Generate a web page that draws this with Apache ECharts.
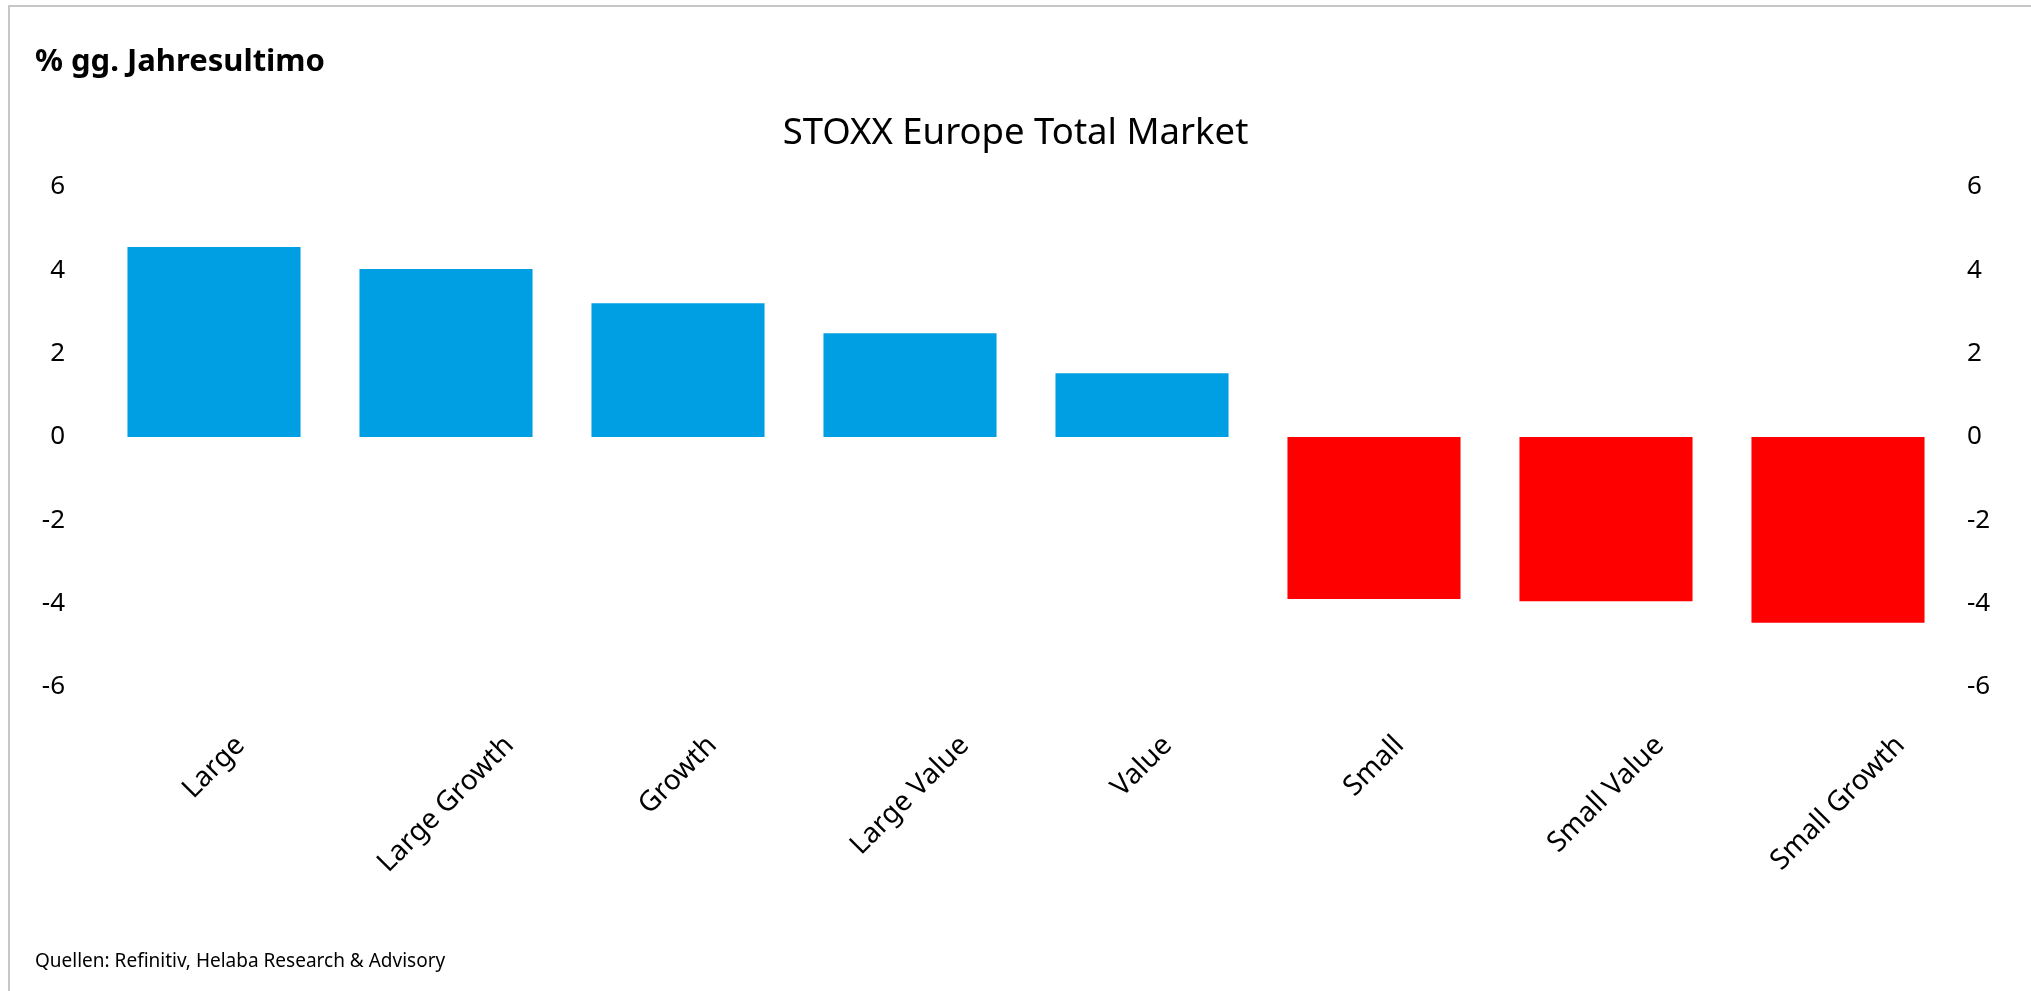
<!DOCTYPE html>
<html>
<head>
<meta charset="utf-8">
<script src="https://cdn.jsdelivr.net/npm/echarts@6/dist/echarts.min.js"></script>
<style>
    html, body { margin: 0; padding: 0; background: #fff; }
    #frame { position: absolute; left: 8px; top: 5px; right: 0; bottom: 0; border-top: 2px solid #c6c6c6; border-left: 2px solid #c6c6c6; }
    #chart { position: absolute; left: 0; top: 0; width: 2031px; height: 991px; }
</style>
</head>
<body>
<div id="frame"></div>
<div id="chart"></div>
<script>
    var categories = ['Large', 'Large Growth', 'Growth', 'Large Value', 'Value', 'Small', 'Small Value', 'Small Growth'];
    var values = [4.56, 4.03, 3.21, 2.49, 1.53, -3.89, -3.94, -4.46];
    var yTicks = [-6, -4, -2, 0, 2, 4, 6];

    var fontName = '"Noto Sans", sans-serif';
    var catFont = 28;

    // rotated labels: centre each label over its bar, tops on one line (like Excel)
    var cv = document.createElement('canvas').getContext('2d');
    cv.font = catFont + 'px ' + fontName;
    var rich = {};
    for (var i = 0; i < categories.length; i++) {
        var w = cv.measureText(categories[i]).width;
        rich['c' + i] = {
            fontSize: catFont,
            fontFamily: fontName,
            color: '#000',
            padding: [w / 2, w / 2, 0, 0]
        };
    }

    var myChart = echarts.init(document.getElementById('chart'));

    var option = {
        animation: false,
        title: [{
            text: '% gg. Jahresultimo',
            left: 35,
            top: 47,
            padding: 0,
            textStyle: { fontSize: 31, fontWeight: 'bold', fontFamily: fontName, color: '#000' }
        }, {
            text: 'STOXX Europe Total Market',
            left: 'center',
            top: 115,
            padding: 0,
            textStyle: { fontSize: 36.5, fontWeight: 'normal', fontFamily: fontName, color: '#000' }
        }, {
            text: 'Quellen: Refinitiv, Helaba Research & Advisory',
            left: 35,
            top: 952,
            padding: 0,
            textStyle: { fontSize: 19, fontWeight: 'normal', fontFamily: fontName, color: '#000' }
        }],
        grid: {
            left: 98,
            right: 77,
            top: 187,
            bottom: 304
        },
        xAxis: {
            type: 'category',
            data: categories,
            axisLine: { show: false },
            axisTick: { show: false },
            axisLabel: {
                rotate: 45,
                interval: 0,
                margin: 54,
                align: 'center',
                verticalAlign: 'middle',
                formatter: function (v, idx) {
                    return '{c' + idx + '|' + v + '}';
                },
                rich: rich
            }
        },
        yAxis: [{
            type: 'value',
            min: yTicks[0],
            max: yTicks[yTicks.length - 1],
            interval: 2,
            axisLine: { show: false },
            axisTick: { show: false },
            splitLine: { show: false },
            axisLabel: { margin: 33, fontSize: 26, fontFamily: fontName, color: '#000' }
        }, {
            type: 'value',
            position: 'right',
            min: yTicks[0],
            max: yTicks[yTicks.length - 1],
            interval: 2,
            axisLine: { show: false },
            axisTick: { show: false },
            splitLine: { show: false },
            axisLabel: { margin: 13, fontSize: 26, fontFamily: fontName, color: '#000' }
        }],
        series: [{
            type: 'bar',
            data: values,
            barCategoryGap: '25.4%',
            itemStyle: {
                color: function (p) {
                    return p.value >= 0 ? '#009fe3' : '#ff0000';
                }
            }
        }]
    };

    myChart.setOption(option);
</script>
</body>
</html>
